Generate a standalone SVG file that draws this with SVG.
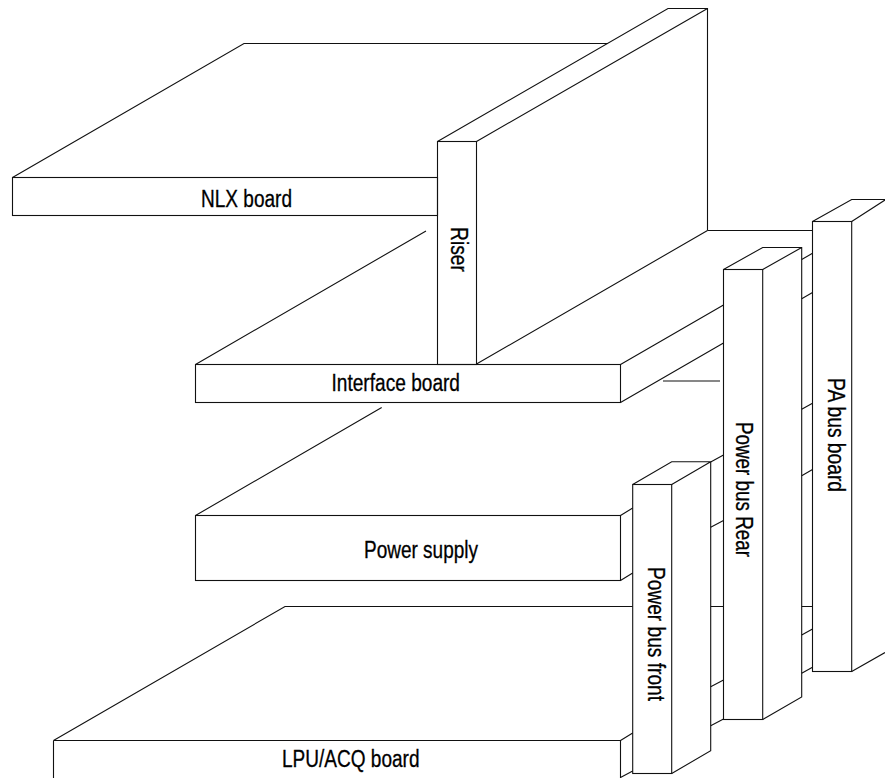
<svg xmlns="http://www.w3.org/2000/svg" width="885" height="778" viewBox="0 0 885 778">
<style>
.l{fill:none;stroke:#111;stroke-width:1.1;stroke-linejoin:miter}
.t{font-family:"Liberation Sans",Arial,sans-serif;font-size:23px;fill:#000;stroke:#000;stroke-width:.3}
</style>
<rect width="885" height="778" fill="#fff"/>
<g id="connectors">
<path class="l" d="M707.5 230.5H812.5M663 381H720"/>
<path class="l" d="M801.7 259.5L812.5 253.3M801.7 298.7L812.5 292.5M801.7 409.3L812.5 403.2M801.7 475.7L812.5 469.6M801.7 635L812.5 629M801.7 673.3L812.5 667.2"/>
<path class="l" d="M710.7 462L723.5 455M710.7 527.3L723.5 520.5M710.7 686.7L723.5 680M710.7 725.7L723.5 719"/>
<path class="l" d="M710.7 606.5H723.5M801.7 606.5H812.5"/>
</g>
<g id="nlx-board">
<path class="l" d="M12.5 177.5L244 43.5H608"/>
<rect class="l" x="12.5" y="177.5" width="425" height="38"/>
<text class="t" x="201" y="207" textLength="91" lengthAdjust="spacingAndGlyphs">NLX board</text>
</g>
<g id="interface-board">
<path class="l" d="M195.5 364.5L426 231M476.5 364L707.5 230.5M620.5 364.5L723.5 305M620.5 402.5L723.5 343"/>
<rect class="l" x="195.5" y="364.5" width="425" height="38"/>
<text class="t" x="331.5" y="390.5" textLength="128.5" lengthAdjust="spacingAndGlyphs">Interface board</text>
</g>
<g id="riser">
<path class="l" d="M437.5 141.5L668 8.5H707.5V230.5M476.5 141.5L707.5 8.5"/>
<rect class="l" x="437.5" y="141.5" width="39" height="223"/>
<text class="t" transform="translate(451 227) rotate(90)" textLength="45" lengthAdjust="spacingAndGlyphs">Riser</text>
</g>
<g id="power-supply">
<path class="l" d="M195.5 515.5L381.7 407.5M620.5 515.5L632.7 508M620.5 580.5L632.7 573"/>
<rect class="l" x="195.5" y="515.5" width="425" height="65"/>
<text class="t" x="364" y="557.5" textLength="114" lengthAdjust="spacingAndGlyphs">Power supply</text>
</g>
<g id="lpu-acq-board">
<path class="l" d="M53.5 740.5L285 606.5H632.7M620.5 740.5L632.7 733M620.5 777.5L632.7 771M53.5 740.5H620.5V778M53.5 740.5V778"/>
<text class="t" x="282" y="766.5" textLength="137.5" lengthAdjust="spacingAndGlyphs">LPU/ACQ board</text>
</g>
<g id="power-bus-front">
<path class="l" d="M632.7 484.5L671.7 461.7H710.7V750.7L671.7 773.5M671.7 484.5L710.7 461.7"/>
<rect class="l" x="632.7" y="484.5" width="39" height="289"/>
<text class="t" transform="translate(648 567) rotate(90)" textLength="134" lengthAdjust="spacingAndGlyphs">Power bus front</text>
</g>
<g id="power-bus-rear">
<path class="l" d="M723.5 269.5L762.7 247.5H801.7V697L762.7 719.5M762.7 269.5L801.7 247.5"/>
<rect class="l" x="723.5" y="269.5" width="39.2" height="450"/>
<text class="t" transform="translate(736 422) rotate(90)" textLength="135" lengthAdjust="spacingAndGlyphs">Power bus Rear</text>
</g>
<g id="pa-bus-board">
<path class="l" d="M812.5 221.5L851.7 199.5H885M851.7 221.5L885 200M851.7 671.5L885 652.5"/>
<rect class="l" x="812.5" y="221.5" width="39.2" height="450"/>
<text class="t" transform="translate(828 378) rotate(90)" textLength="114" lengthAdjust="spacingAndGlyphs">PA bus board</text>
</g>
</svg>
